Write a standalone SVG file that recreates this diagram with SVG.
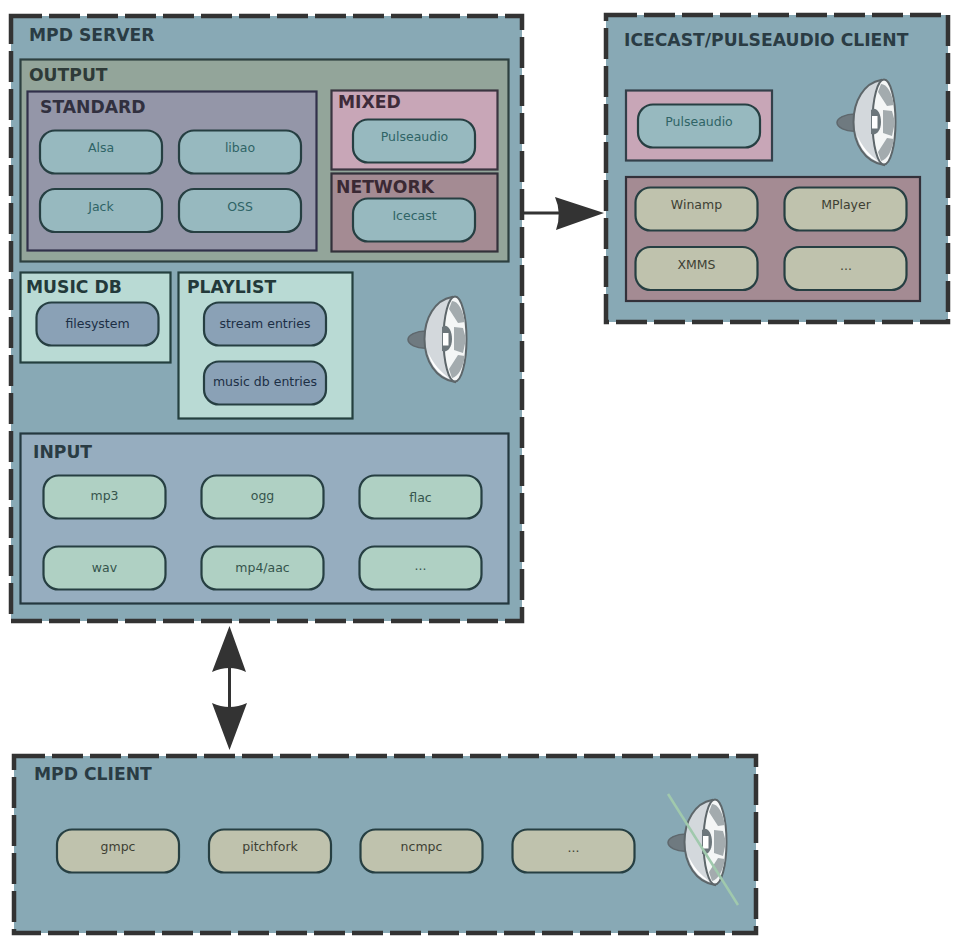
<svg xmlns="http://www.w3.org/2000/svg" width="957" height="951" viewBox="0 0 957 951">
<style>
text{font-family:"DejaVu Sans",sans-serif}
.box{fill:#88a9b5;stroke:#333;stroke-width:4.500;stroke-dasharray:31 7}
.h{font-size:17.200px;font-weight:bold;fill:#2a3c44}
.h2{font-size:17.200px;font-weight:bold}
.n{font-size:12.500px;text-anchor:middle}
.p{stroke-width:2.200;stroke:#263f42}
.teal{fill:#97b9bf}.teal+text{fill:#2f6466}
.green{fill:#afd0c3}.green+text{fill:#35544c}
.blue{fill:#8aa1b6}.blue+text{fill:#1c2f45}
.olive{fill:#bfc2ad}.olive+text{fill:#3d3f33}
.line{stroke:#333;stroke-width:3;fill:none}
.head{fill:#333}
</style>
<defs>
<symbol id="speaker" overflow="visible">
<path d="M426 331C416 331 408 335 408 339.500C408 344 416 349 428 348Z" fill="#6f7a80" stroke="#5f686d" stroke-width="1.500"/>
<path d="M452 297C435 300 424.500 318 424.500 339C424.500 361 436 379 455 382Z" fill="#d3d8dc" stroke="#5d666a" stroke-width="2"/>
<path d="M428 352C431 366 439 375 450 379C441 372 433 364 428 352Z" fill="#fff"/>
<ellipse cx="455" cy="339" rx="11.500" ry="42.500" fill="#f4f6f6" stroke="#5d666a" stroke-width="2"/>
<path d="M452 301C458 301 463 310 465 322L458 323L449 309ZM463 328L466 339L463 353L454 350L454 327ZM449 369L458 355L465 356C463 368 458 377 452 378Z" fill="#a3abae"/>
<path d="M442 327C447 323 452 330 452 339C452 348 447 353 442 351Z" fill="#6c767b"/>
<rect x="443" y="333" width="5.500" height="12.500" fill="#fff"/>
</symbol>
</defs>
<g id="connectors">
<path class="line" d="M522 213H572"/>
<path class="head" d="M555 197L604 213L556 230Q562 213 555 197Z"/>
<path class="line" d="M229.500 665V710"/>
<path class="head" d="M229.500 626L246 672Q229.500 664 212 672Z"/>
<path class="head" d="M229.500 750L212 703Q229.500 711 247 703Z"/>
</g>
<g id="mpd-server">
<rect class="box" x="11" y="16" width="511" height="605"/>
<text class="h" x="29" y="41">MPD SERVER</text>
</g>
<g id="output">
<rect x="20.500" y="59.500" width="488" height="202" fill="#93a59a" stroke="#2d4040" stroke-width="2.200"/>
<text class="h2" x="29" y="81" fill="#2e3a38">OUTPUT</text>
</g>
<g id="standard">
<rect x="27.500" y="91.500" width="289" height="159" fill="#9496a8" stroke="#31304a" stroke-width="2.200"/>
<text class="h2" x="40" y="113" fill="#31303f">STANDARD</text>
</g>
<g id="alsa"><rect class="p teal" x="40" y="130.500" width="122" height="43" rx="15"/><text class="n" x="101" y="152">Alsa</text></g>
<g id="libao"><rect class="p teal" x="179" y="130.500" width="122" height="43" rx="15"/><text class="n" x="240" y="152">libao</text></g>
<g id="jack"><rect class="p teal" x="40" y="189" width="122" height="43" rx="15"/><text class="n" x="101" y="211">Jack</text></g>
<g id="oss"><rect class="p teal" x="179" y="189" width="122" height="43" rx="15"/><text class="n" x="240" y="211">OSS</text></g>
<g id="mixed">
<rect x="331.500" y="90.500" width="166" height="79" fill="#c8a6b7" stroke="#3a3540" stroke-width="2.200"/>
<text class="h2" x="338" y="108" fill="#3e2b3a">MIXED</text>
</g>
<g id="mixed-pulseaudio"><rect class="p teal" x="353" y="119.500" width="122" height="43" rx="15"/><text class="n" x="414.500" y="141">Pulseaudio</text></g>
<g id="network">
<rect x="331.500" y="173.500" width="166" height="78" fill="#a48b93" stroke="#33313a" stroke-width="2.200"/>
<text class="h2" x="336" y="193" fill="#3a2934">NETWORK</text>
</g>
<g id="icecast"><rect class="p teal" x="353" y="198.500" width="122" height="43" rx="15"/><text class="n" x="414.500" y="220">Icecast</text></g>
<g id="music-db">
<rect x="20.500" y="272.500" width="150" height="90" fill="#b9dad4" stroke="#24403f" stroke-width="2.200"/>
<text class="h2" x="26" y="293" fill="#23393a">MUSIC DB</text>
</g>
<g id="filesystem"><rect class="p blue" x="36.500" y="302.500" width="122" height="43" rx="15"/><text class="n" x="97.500" y="328">filesystem</text></g>
<g id="playlist">
<rect x="178.500" y="272.500" width="174" height="146" fill="#b9dad4" stroke="#24403f" stroke-width="2.200"/>
<text class="h2" x="187" y="293" fill="#23393a">PLAYLIST</text>
</g>
<g id="stream-entries"><rect class="p blue" x="204" y="302.500" width="122" height="43" rx="15"/><text class="n" x="265" y="328">stream entries</text></g>
<g id="music-db-entries"><rect class="p blue" x="204" y="361.500" width="122" height="43" rx="15"/><text class="n" x="265" y="386">music db entries</text></g>
<g id="speaker-server"><use href="#speaker"/></g>
<g id="input">
<rect x="20.500" y="433.500" width="488" height="170" fill="#96adbf" stroke="#24383f" stroke-width="2.200"/>
<text class="h" x="33" y="458">INPUT</text>
</g>
<g id="mp3"><rect class="p green" x="43.500" y="475.500" width="122" height="43" rx="15"/><text class="n" x="104.500" y="500">mp3</text></g>
<g id="ogg"><rect class="p green" x="201.500" y="475.500" width="122" height="43" rx="15"/><text class="n" x="262.500" y="500">ogg</text></g>
<g id="flac"><rect class="p green" x="359.500" y="475.500" width="122" height="43" rx="15"/><text class="n" x="420.500" y="502">flac</text></g>
<g id="wav"><rect class="p green" x="43.500" y="546.500" width="122" height="43" rx="15"/><text class="n" x="104.500" y="572">wav</text></g>
<g id="mp4-aac"><rect class="p green" x="201.500" y="546.500" width="122" height="43" rx="15"/><text class="n" x="262.500" y="572">mp4/aac</text></g>
<g id="input-more"><rect class="p green" x="359.500" y="546.500" width="122" height="43" rx="15"/><text class="n" x="420.500" y="570">...</text></g>
<g id="icecast-client">
<rect class="box" x="606" y="15" width="342" height="307"/>
<text class="h" x="624" y="46">ICECAST/PULSEAUDIO CLIENT</text>
</g>
<g id="client-mixed"><rect x="626" y="90.500" width="146" height="70" fill="#c8a6b7" stroke="#33404a" stroke-width="2.200"/></g>
<g id="client-pulseaudio"><rect class="p teal" x="638" y="104.500" width="122" height="43" rx="15"/><text class="n" x="699" y="126">Pulseaudio</text></g>
<g id="speaker-client"><use href="#speaker" x="429" y="-217"/></g>
<g id="client-network"><rect x="626" y="177" width="294" height="124" fill="#a48b93" stroke="#33313a" stroke-width="2.200"/></g>
<g id="winamp"><rect class="p olive" x="635.500" y="187.500" width="122" height="43" rx="15"/><text class="n" x="696.500" y="209">Winamp</text></g>
<g id="mplayer"><rect class="p olive" x="784.500" y="187.500" width="122" height="43" rx="15"/><text class="n" x="846" y="209">MPlayer</text></g>
<g id="xmms"><rect class="p olive" x="635.500" y="247" width="122" height="43" rx="15"/><text class="n" x="696.500" y="269">XMMS</text></g>
<g id="client-more"><rect class="p olive" x="784.500" y="247" width="122" height="43" rx="15"/><text class="n" x="846" y="270">...</text></g>
<g id="mpd-client">
<rect class="box" x="14" y="756" width="742" height="177"/>
<text class="h" x="34" y="780">MPD CLIENT</text>
</g>
<g id="gmpc"><rect class="p olive" x="57" y="829.500" width="122" height="43" rx="15"/><text class="n" x="118" y="851">gmpc</text></g>
<g id="pitchfork"><rect class="p olive" x="209" y="829.500" width="122" height="43" rx="15"/><text class="n" x="270" y="851">pitchfork</text></g>
<g id="ncmpc"><rect class="p olive" x="360.500" y="829.500" width="122" height="43" rx="15"/><text class="n" x="421.500" y="851">ncmpc</text></g>
<g id="client-etc"><rect class="p olive" x="512.500" y="829.500" width="122" height="43" rx="15"/><text class="n" x="573.500" y="852">...</text></g>
<g id="speaker-muted"><use href="#speaker" x="260" y="503"/><path d="M668 794L738 905" stroke="#a0c9ad" stroke-width="2.500" fill="none"/></g>
</svg>
